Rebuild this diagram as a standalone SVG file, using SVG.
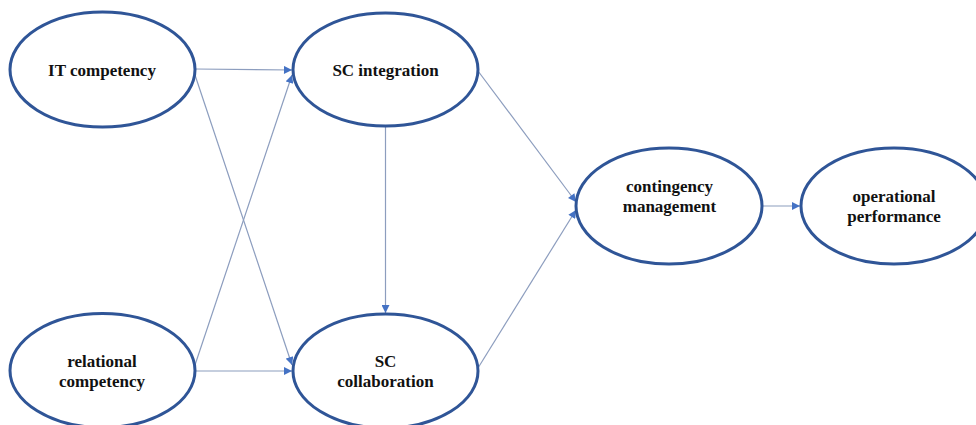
<svg xmlns="http://www.w3.org/2000/svg" width="976" height="425" viewBox="0 0 976 425">
<style>
.node{fill:#ffffff;stroke:#2F5597;stroke-width:3}
.lbl{font-family:"Liberation Serif","Times New Roman",serif;font-weight:bold;font-size:17px;fill:#111111;text-anchor:middle}
.edge{stroke:#8C9DBE;stroke-width:1.2;fill:none;marker-end:url(#arr)}
</style>
<defs>
<marker id="arr" viewBox="0 0 10 10" refX="10" refY="5" markerWidth="9" markerHeight="8" markerUnits="userSpaceOnUse" orient="auto">
<path d="M0,0 L10,5 L0,10 Z" fill="#4472C4"/>
</marker>
</defs>
<rect width="976" height="425" fill="#ffffff"/>
<g id="connectors">
<line class="edge" x1="195" y1="69" x2="292" y2="70"/>
<line class="edge" x1="195" y1="75" x2="292" y2="365"/>
<line class="edge" x1="195" y1="365" x2="292" y2="75"/>
<line class="edge" x1="195" y1="371" x2="292" y2="371"/>
<line class="edge" x1="385.5" y1="127" x2="385.5" y2="313"/>
<line class="edge" x1="478" y1="71" x2="576" y2="202"/>
<line class="edge" x1="478" y1="368" x2="576" y2="210"/>
<line class="edge" x1="762" y1="206" x2="800" y2="206"/>
</g>
<g id="it-competency">
<ellipse class="node" cx="102.5" cy="69.5" rx="92.5" ry="57.5"/>
<text class="lbl" x="102" y="76">IT  competency</text>
</g>
<g id="sc-integration">
<ellipse class="node" cx="385.5" cy="69.5" rx="92.5" ry="56.5"/>
<text class="lbl" x="385.5" y="76">SC integration</text>
</g>
<g id="relational-competency">
<ellipse class="node" cx="102.5" cy="370.5" rx="92.5" ry="57"/>
<text class="lbl" x="102" y="367">relational</text>
<text class="lbl" x="102" y="387">competency</text>
</g>
<g id="sc-collaboration">
<ellipse class="node" cx="385.5" cy="371" rx="92.5" ry="57"/>
<text class="lbl" x="385.5" y="367">SC</text>
<text class="lbl" x="385.5" y="387">collaboration</text>
</g>
<g id="contingency-management">
<ellipse class="node" cx="669" cy="206" rx="93" ry="58"/>
<text class="lbl" x="669.5" y="192">contingency</text>
<text class="lbl" x="669.5" y="212">management</text>
</g>
<g id="operational-performance">
<ellipse class="node" cx="894" cy="206" rx="93" ry="58"/>
<text class="lbl" x="894" y="202">operational</text>
<text class="lbl" x="894" y="222">performance</text>
</g>
</svg>
